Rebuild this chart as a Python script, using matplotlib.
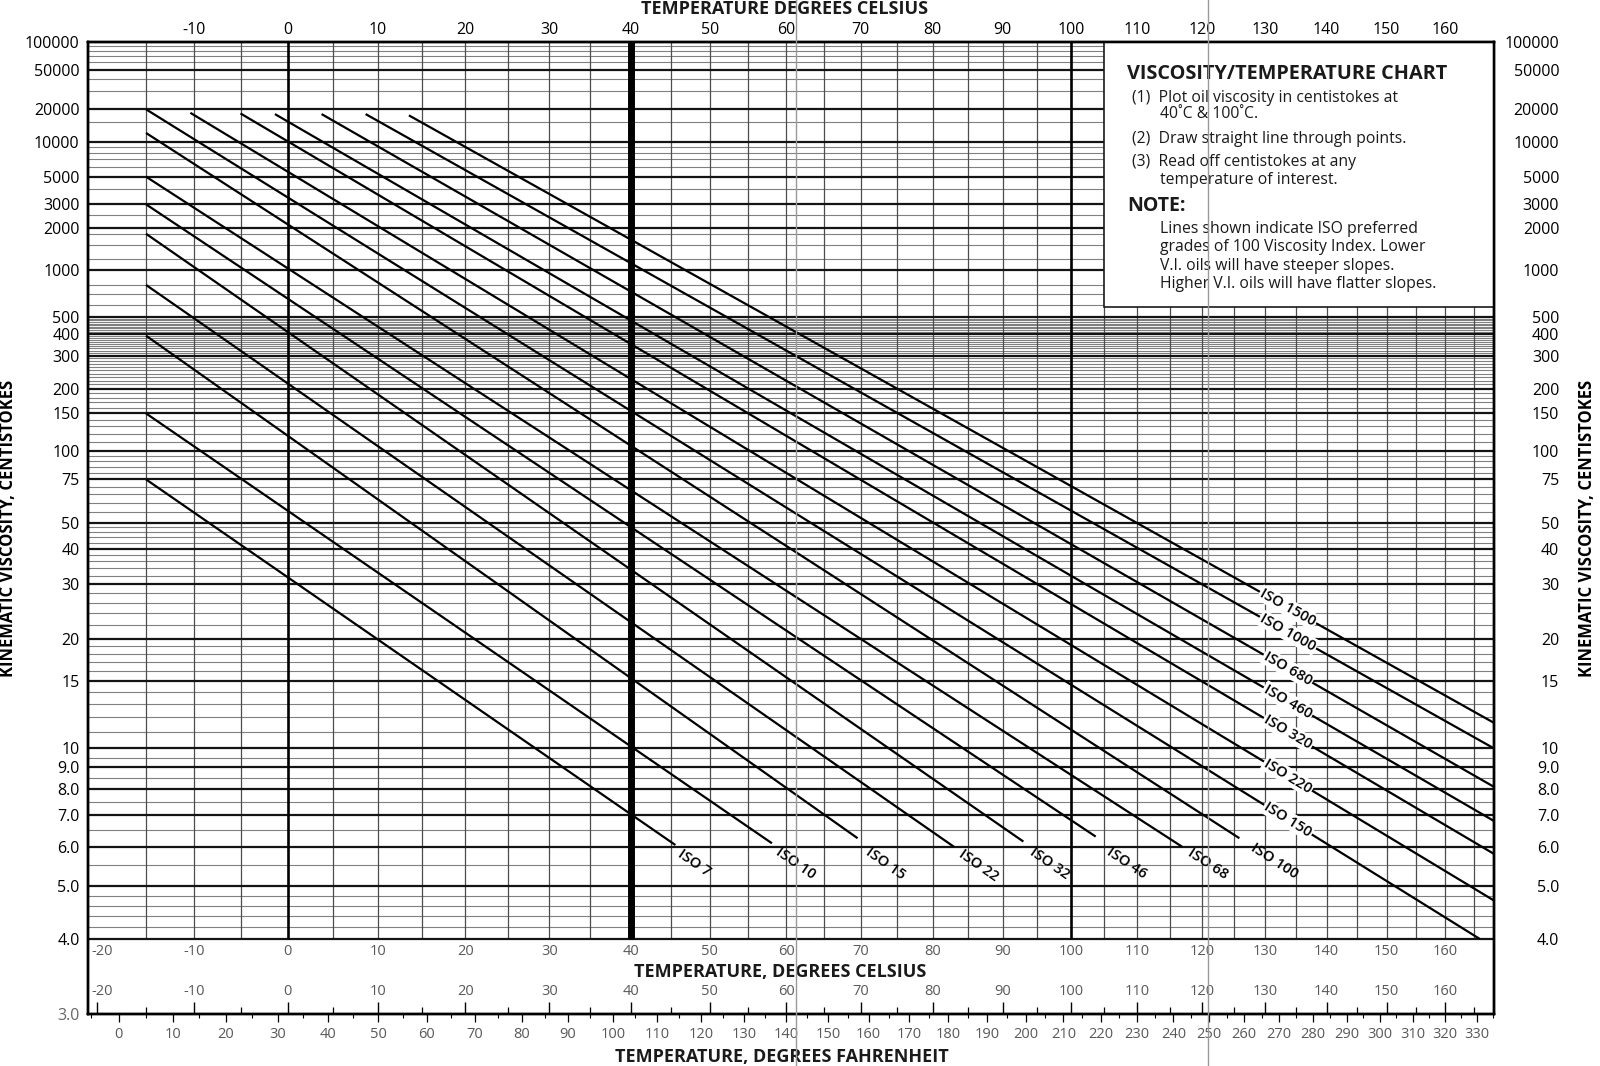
import numpy as np
import matplotlib
matplotlib.use('Agg')
import matplotlib.pyplot as plt
from matplotlib.patches import Rectangle
from matplotlib.lines import Line2D
from matplotlib.ticker import NullLocator
from matplotlib.transforms import offset_copy

plt.rcParams['font.family'] = ['Open Sans', 'DejaVu Sans']
plt.rcParams['axes.unicode_minus'] = False

# ISO VG lines, start and end points (deg C, cSt)
iso_grades = ['ISO 7', 'ISO 10', 'ISO 15', 'ISO 22', 'ISO 32', 'ISO 46', 'ISO 68', 'ISO 100',
              'ISO 150', 'ISO 220', 'ISO 320', 'ISO 460', 'ISO 680', 'ISO 1000', 'ISO 1500']
t_start = [-15, -15, -15, -15, -15, -15, -15, -15, -15, -10.4, -5.1, -1.4, 3.7, 8.6, 13.5]
v_start = [75, 150, 390, 800, 1800, 3000, 5000, 12000, 20000, 18500, 18250, 18000, 18000, 18000, 17500]
t_end = [45.6, 58.1, 69.6, 83.0, 93.0, 103.7, 116.9, 125.9, 166.0, 168.5, 168.5, 168.5, 168.5, 168.5, 168.5]
v_end = [6.05, 6.1, 6.25, 6.0, 6.15, 6.3, 6.0, 6.25, 4.0, 4.7, 5.8, 6.8, 8.1, 10.0, 11.6]

# label spots for the low grades (below the line ends)
low_label_t = [48.0, 61.2, 73.5, 86.6, 96.8, 108.4, 120.9, 131.5]
low_label_v = [5.55, 5.55, 5.55, 5.5, 5.55, 5.55, 5.55, 5.6]
high_label_t = 133.7

# axis ticks
visc_ticks = [100000, 50000, 20000, 10000, 5000, 3000, 2000, 1000, 500, 400, 300, 200, 150,
              100, 75, 50, 40, 30, 20, 15, 10, 9, 8, 7, 6, 5, 4, 3]
visc_labels = ['100000', '50000', '20000', '10000', '5000', '3000', '2000', '1000', '500', '400',
               '300', '200', '150', '100', '75', '50', '40', '30', '20', '15', '10', '9.0', '8.0',
               '7.0', '6.0', '5.0', '4.0', '3.0']
visc_minor = ([90000, 80000, 70000, 60000, 40000, 30000, 15000, 9000, 8000, 7000, 6000, 4000,
               2500, 1800, 1500, 1200, 800, 700, 600]
              + [v for v in range(310, 500, 10) if v != 400]
              + list(range(210, 300, 10))
              + [190, 180, 170, 160, 140, 130, 120, 110, 95, 90, 85, 80, 70, 65, 60, 55,
                 48, 46, 44, 42, 38, 36, 34, 32, 28, 26, 24, 22, 19, 18, 17, 16, 14, 13, 12, 11,
                 9.5, 8.5, 7.5, 6.5, 5.5, 4.8, 4.6, 4.4, 4.2])
celsius_top = list(range(-10, 170, 10))
celsius_rows = list(range(-20, 170, 10))
fahrenheit_ticks = list(range(0, 340, 10))
fahrenheit_minor = list(range(-5, 340, 10))
grid_t = list(range(-15, 170, 5))

T_MIN, T_MAX = -20.9, 168.5
V_MIN, V_MAX = 3.0, 100000


def fwd_t(t):
    with np.errstate(invalid='ignore', divide='ignore'):
        return np.log10(np.asarray(t, dtype=float) + 273.15)


def inv_t(u):
    return 10 ** np.asarray(u, dtype=float) - 273.15


def fwd_f(f):
    with np.errstate(invalid='ignore', divide='ignore'):
        return np.log10((np.asarray(f, dtype=float) - 32) * 5 / 9 + 273.15)


def inv_f(u):
    return (10 ** np.asarray(u, dtype=float) - 273.15) * 9 / 5 + 32


def fwd_v(v):
    with np.errstate(invalid='ignore', divide='ignore'):
        return np.log10(np.log10(np.asarray(v, dtype=float) + 0.7))


def inv_v(w):
    return 10 ** (10 ** np.asarray(w, dtype=float)) - 0.7


W, H = 1600, 1066


def fx(px):
    return px / W


def fy(py):
    return 1 - py / H


fig = plt.figure(figsize=(16, 10.66), dpi=100)
ax = fig.add_axes([fx(88), fy(1014), fx(1494) - fx(88), fy(42) - fy(1014)])
ax.set_xscale('function', functions=(fwd_t, inv_t))
ax.set_yscale('function', functions=(fwd_v, inv_v))
ax.set_xlim(T_MIN, T_MAX)
ax.set_ylim(V_MIN, V_MAX)

# grid
ax.hlines(visc_minor, T_MIN, T_MAX, colors='0.5', lw=0.8, zorder=1)
ax.hlines([v for v in visc_ticks if 4 <= v < 100000], T_MIN, T_MAX, colors='0.08', lw=1.6, zorder=1.2)
ax.vlines([t for t in grid_t if t not in (0, 40, 100)], 4, V_MAX, colors='0.3', lw=0.9, zorder=1.1)
ax.vlines([0, 100], 4, V_MAX, colors='black', lw=1.9, zorder=1.3)
ax.vlines([40], 4, V_MAX, colors='black', lw=5, zorder=1.3)

# ISO lines
for i in range(len(iso_grades)):
    ax.plot([t_start[i], t_end[i]], [v_start[i], v_end[i]], color='black', lw=1.6,
            solid_capstyle='butt', zorder=2)


def line_angle(i):
    p0 = ax.transData.transform((t_start[i], v_start[i]))
    p1 = ax.transData.transform((t_end[i], v_end[i]))
    return np.degrees(np.arctan2(p1[1] - p0[1], p1[0] - p0[0])), p0, p1


for i in range(8):
    ang, _, _ = line_angle(i)
    ax.text(low_label_t[i], low_label_v[i], iso_grades[i], rotation=ang, rotation_mode='anchor',
            ha='center', va='center', fontsize=10.5, fontweight='semibold', zorder=2.5)

for i in range(8, len(iso_grades)):
    ang, p0, p1 = line_angle(i)
    xd = ax.transData.transform((high_label_t, 10))[0]
    yd = p0[1] + (p1[1] - p0[1]) * (xd - p0[0]) / (p1[0] - p0[0])
    tt, vv = ax.transData.inverted().transform((xd, yd))
    ax.text(tt, vv, iso_grades[i], rotation=ang, rotation_mode='anchor', ha='center', va='center',
            fontsize=10.5, fontweight='semibold', zorder=2.5,
            bbox=dict(facecolor='white', edgecolor='none', pad=1.0))

# instruction box
ax.add_patch(Rectangle((105, 580), T_MAX - 105, V_MAX - 580, facecolor='white',
                       edgecolor='0.1', lw=1.2, zorder=3))
fig.text(fx(1127), fy(74), 'VISCOSITY/TEMPERATURE CHART', fontsize=14.3, fontweight='bold',
         va='center', color='0.1')
box_lines = [(1132, 98, '(1)  Plot oil viscosity in centistokes at'),
             (1160, 114, '40˚C & 100˚C.'),
             (1132, 139, '(2)  Draw straight line through points.'),
             (1132, 162, '(3)  Read off centistokes at any'),
             (1160, 180, 'temperature of interest.'),
             (1160, 229, 'Lines shown indicate ISO preferred'),
             (1160, 247, 'grades of 100 Viscosity Index. Lower'),
             (1160, 266, 'V.I. oils will have steeper slopes.'),
             (1160, 284, 'Higher V.I. oils will have flatter slopes.')]
for x0, y0, s in box_lines:
    fig.text(fx(x0), fy(y0), s, fontsize=11.3, va='center', color='0.1')
fig.text(fx(1127), fy(206), 'NOTE:', fontsize=14, fontweight='bold', va='center', color='0.1')

# viscosity axes
ax.set_yticks(visc_ticks, visc_labels)
ax.yaxis.set_minor_locator(NullLocator())
ax.tick_params(axis='y', length=0, pad=6, labelsize=11.5)
ax.get_yticklabels()[-1].set_color('0.4')

ax2 = ax.twinx()
ax2.set_yscale('function', functions=(fwd_v, inv_v))
ax2.set_ylim(V_MIN, V_MAX)
ax2.set_yticks(visc_ticks[:-1], visc_labels[:-1])
ax2.yaxis.set_minor_locator(NullLocator())
ax2.tick_params(axis='y', length=0, pad=47, labelsize=11.5)
for lab in ax2.get_yticklabels():
    lab.set_horizontalalignment('right')

ax.set_ylabel('KINEMATIC VISCOSITY, CENTISTOKES', fontsize=12, fontweight='bold')
ax.yaxis.set_label_coords((17 - 88) / (1494 - 88), 0.5)
ax2.set_ylabel('KINEMATIC VISCOSITY, CENTISTOKES', fontsize=12, fontweight='bold')
ax2.yaxis.set_label_coords((1578 - 88) / (1494 - 88), 0.5)

# celsius ticks on the fahrenheit line (pointing up)
ax.set_xticks(celsius_rows)
ax.set_xticks(grid_t, minor=True)
ax.tick_params(axis='x', which='major', direction='in', length=9, width=1.0, labelbottom=False)
ax.tick_params(axis='x', which='minor', direction='in', length=5, width=0.9)

# top celsius labels
axt = ax.twiny()
axt.set_xscale('function', functions=(fwd_t, inv_t))
axt.set_xlim(T_MIN, T_MAX)
axt.set_xticks(celsius_top)
axt.xaxis.set_minor_locator(NullLocator())
axt.tick_params(axis='x', length=0, pad=3, labelsize=11.5)

# fahrenheit scale at the bottom
axf = ax.twiny()
axf.set_xscale('function', functions=(fwd_f, inv_f))
axf.set_xlim(T_MIN * 9 / 5 + 32, T_MAX * 9 / 5 + 32)
axf.xaxis.set_ticks_position('bottom')
axf.set_xticks(fahrenheit_ticks)
axf.set_xticks(fahrenheit_minor, minor=True)
axf.tick_params(axis='x', which='major', direction='out', length=6, width=0.9, pad=3,
                labelsize=10.5, labelcolor='0.35')
axf.tick_params(axis='x', which='minor', direction='out', length=3, width=0.8)

# celsius label rows in the lower band
xt = ax.get_xaxis_transform()
for t in celsius_rows:
    for yrow in (0.064, 0.023):
        if t == celsius_rows[0]:
            ax.text(T_MIN, yrow, str(t), transform=offset_copy(xt, fig=fig, x=3, units='dots'),
                    ha='left', va='center', fontsize=10.5, color='0.35')
        else:
            ax.text(t, yrow, str(t), transform=xt, ha='center', va='center',
                    fontsize=10.5, color='0.35')

for a in (ax, ax2, axt, axf):
    for sp in a.spines.values():
        sp.set_linewidth(1.6)

fig.text(fx(785), fy(9), 'TEMPERATURE DEGREES CELSIUS', fontsize=13, fontweight='bold',
         ha='center', va='center', color='0.1')
fig.text(fx(780), fy(972), 'TEMPERATURE, DEGREES CELSIUS', fontsize=13, fontweight='bold',
         ha='center', va='center', color='0.1')
fig.text(fx(782), fy(1057), 'TEMPERATURE, DEGREES FAHRENHEIT', fontsize=13, fontweight='bold',
         ha='center', va='center', color='0.1')

# scanner fold marks
for xs in (796, 1208):
    fig.add_artist(Line2D([fx(xs), fx(xs)], [0, 1], transform=fig.transFigure, color='0.6',
                          lw=1.0, zorder=10))

fig.savefig('out.png', dpi=100, facecolor='white')
